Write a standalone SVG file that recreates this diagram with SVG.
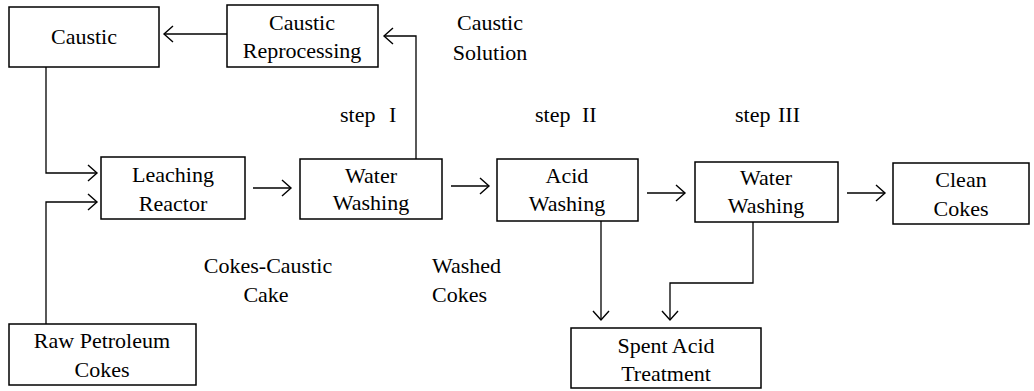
<svg xmlns="http://www.w3.org/2000/svg" width="1034" height="391" viewBox="0 0 1034 391">
<style>
.box{fill:#fff;stroke:#000;stroke-width:1.5}
.t{font-family:'Liberation Serif','Times New Roman','DejaVu Serif',Tinos,serif;font-size:22px;fill:#000}
.c{text-anchor:middle}
.ln{fill:none;stroke:#000;stroke-width:1.3}
</style>
<defs>
<marker id="ah" markerUnits="userSpaceOnUse" markerWidth="14" markerHeight="20" refX="11" refY="10" orient="auto">
<path d="M2,2 L11,10 L2,18" fill="none" stroke="#000" stroke-width="1.4"/>
</marker>
</defs>
<rect width="1034" height="391" fill="#fff"/>
<g id="connectors">
<path class="ln" d="M227,34 H164" marker-end="url(#ah)"/>
<path class="ln" d="M416,159 V36 H384" marker-end="url(#ah)"/>
<path class="ln" d="M46,67 V173 H97" marker-end="url(#ah)"/>
<path class="ln" d="M46,324 V202 H97" marker-end="url(#ah)"/>
<path class="ln" d="M253,188 H291" marker-end="url(#ah)"/>
<path class="ln" d="M451,186 H489" marker-end="url(#ah)"/>
<path class="ln" d="M647,193 H685" marker-end="url(#ah)"/>
<path class="ln" d="M847,193 H885" marker-end="url(#ah)"/>
<path class="ln" d="M601,221 V320" marker-end="url(#ah)"/>
<path class="ln" d="M753,222 V283 H670 V320" marker-end="url(#ah)"/>
</g>
<g id="caustic">
<rect class="box" x="9" y="7" width="150" height="60"/>
<text class="t c" x="84" y="44" font-family="Liberation Serif, serif">Caustic</text>
</g>
<g id="caustic-reprocessing">
<rect class="box" x="227" y="5" width="151" height="62"/>
<text class="t c" x="302" y="30">Caustic</text>
<text class="t c" x="302" y="58">Reprocessing</text>
</g>
<g id="leaching-reactor">
<rect class="box" x="101" y="157" width="144" height="62"/>
<text class="t c" x="173" y="182">Leaching</text>
<text class="t c" x="173" y="211">Reactor</text>
</g>
<g id="water-washing-1">
<rect class="box" x="300" y="159" width="142" height="60"/>
<text class="t c" x="371" y="183">Water</text>
<text class="t c" x="371" y="210">Washing</text>
</g>
<g id="acid-washing">
<rect class="box" x="497" y="159" width="141" height="62"/>
<text class="t c" x="567" y="183">Acid</text>
<text class="t c" x="567" y="211">Washing</text>
</g>
<g id="water-washing-2">
<rect class="box" x="695" y="162" width="143" height="60"/>
<text class="t c" x="766" y="185">Water</text>
<text class="t c" x="766" y="213">Washing</text>
</g>
<g id="clean-cokes">
<rect class="box" x="893" y="163" width="136" height="61"/>
<text class="t c" x="961" y="187">Clean</text>
<text class="t c" x="961" y="216">Cokes</text>
</g>
<g id="raw-petroleum-cokes">
<rect class="box" x="9" y="324" width="187" height="61"/>
<text class="t c" x="102" y="348">Raw Petroleum</text>
<text class="t c" x="102" y="377">Cokes</text>
</g>
<g id="spent-acid-treatment">
<rect class="box" x="571" y="328" width="190" height="60"/>
<text class="t c" x="666" y="353">Spent Acid</text>
<text class="t c" x="666" y="381">Treatment</text>
</g>
<g id="labels">
<text class="t c" x="490" y="30">Caustic</text>
<text class="t c" x="490" y="60">Solution</text>
<text class="t" x="340" y="122">step<tspan x="389">I</tspan></text>
<text class="t" x="535" y="122">step<tspan x="582">II</tspan></text>
<text class="t" x="735" y="122">step<tspan x="778">III</tspan></text>
<text class="t c" x="268" y="273">Cokes-Caustic</text>
<text class="t c" x="266" y="302">Cake</text>
<text class="t" x="432" y="273">Washed</text>
<text class="t" x="432" y="302">Cokes</text>
</g>
</svg>
